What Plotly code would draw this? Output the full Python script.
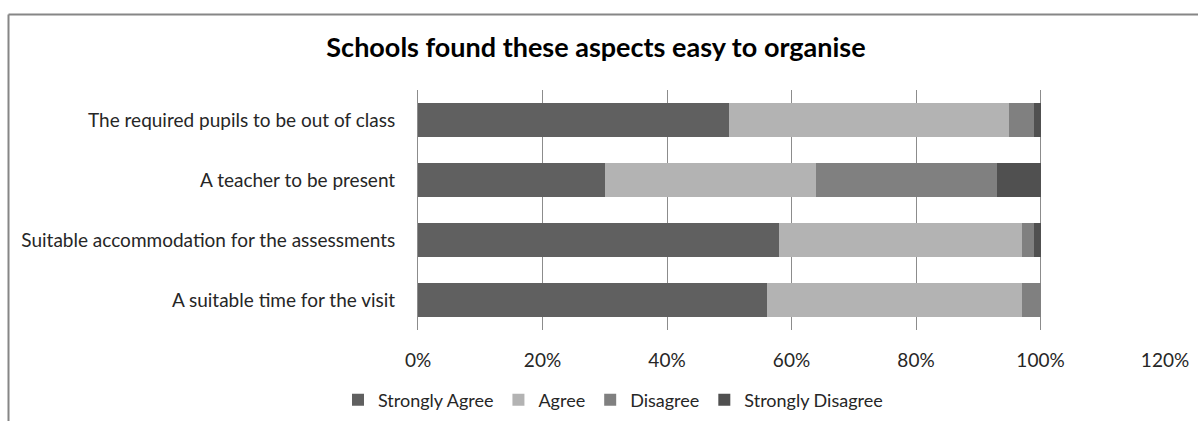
import plotly.graph_objects as go

categories = [
    "The required pupils to be out of class",
    "A teacher to be present",
    "Suitable accommodation for the assessments",
    "A suitable time for the visit",
]
strongly_agree = [50, 30, 58, 56]
agree = [45, 34, 39, 41]
disagree = [4, 29, 2, 3]
strongly_disagree = [1, 7, 1, 0]

series = [
    ("Strongly Agree", strongly_agree, "#606060"),
    ("Agree", agree, "#b3b3b3"),
    ("Disagree", disagree, "#808080"),
    ("Strongly Disagree", strongly_disagree, "#505050"),
]

FONT = "Lato, 'Open Sans', sans-serif"

fig = go.Figure()
for name, vals, color in series:
    fig.add_trace(go.Bar(
        y=categories, x=[v / 100 for v in vals], name=name, orientation="h",
        marker=dict(color=color, line=dict(width=0)), width=0.57,
    ))

W, H = 1198, 421
L, R, T, B = 418, 33, 90, 91
pw, ph = W - L - R, H - T - B

def px_x(x):
    return (x - L) / pw

def px_y(y):
    return 1 - (y - T) / ph

fig.update_layout(
    width=W, height=H,
    margin=dict(l=L, r=R, t=T, b=B, autoexpand=False),
    barmode="stack",
    plot_bgcolor="white", paper_bgcolor="white",
    font=dict(family=FONT, size=18, color="#262626"),
    title=dict(text="<b>Schools found these aspects easy to organise</b>",
               x=596 / W, xanchor="center", y=1 - 48 / H, yanchor="middle",
               font=dict(family=FONT, size=27, color="#000000")),
    xaxis=dict(range=[0, 1.2], tickvals=[0, 0.2, 0.4, 0.6, 0.8, 1.0, 1.2],
               tickformat=".0%", showgrid=True, gridcolor="#8c8c8c", gridwidth=1,
               zeroline=False, showline=False, ticks="", automargin=False,
               tickfont=dict(size=19, color="#262626"), ticklabelstandoff=17,
               fixedrange=True),
    yaxis=dict(autorange="reversed", showgrid=False, zeroline=False,
               showline=True, linecolor="#8c8c8c", linewidth=1, ticks="",
               automargin=False,
               tickfont=dict(size=19, color="#262626"), ticklabelstandoff=18,
               fixedrange=True),
    legend=dict(orientation="h", x=px_x(613), xanchor="center",
                y=px_y(400), yanchor="middle", yref="paper",
                font=dict(size=18, color="#262626"), traceorder="normal",
                itemwidth=30),
    showlegend=True,
    bargap=0.43,
    shapes=[
        dict(type="line", xref="paper", yref="paper",
             x0=px_x(8.5), x1=px_x(1198), y0=px_y(14.5), y1=px_y(14.5),
             line=dict(color="#868686", width=2)),
        dict(type="line", xref="paper", yref="paper",
             x0=px_x(8.5), x1=px_x(8.5), y0=px_y(14.5), y1=px_y(425),
             line=dict(color="#868686", width=2)),
    ],
)

fig.write_html("out.html")
